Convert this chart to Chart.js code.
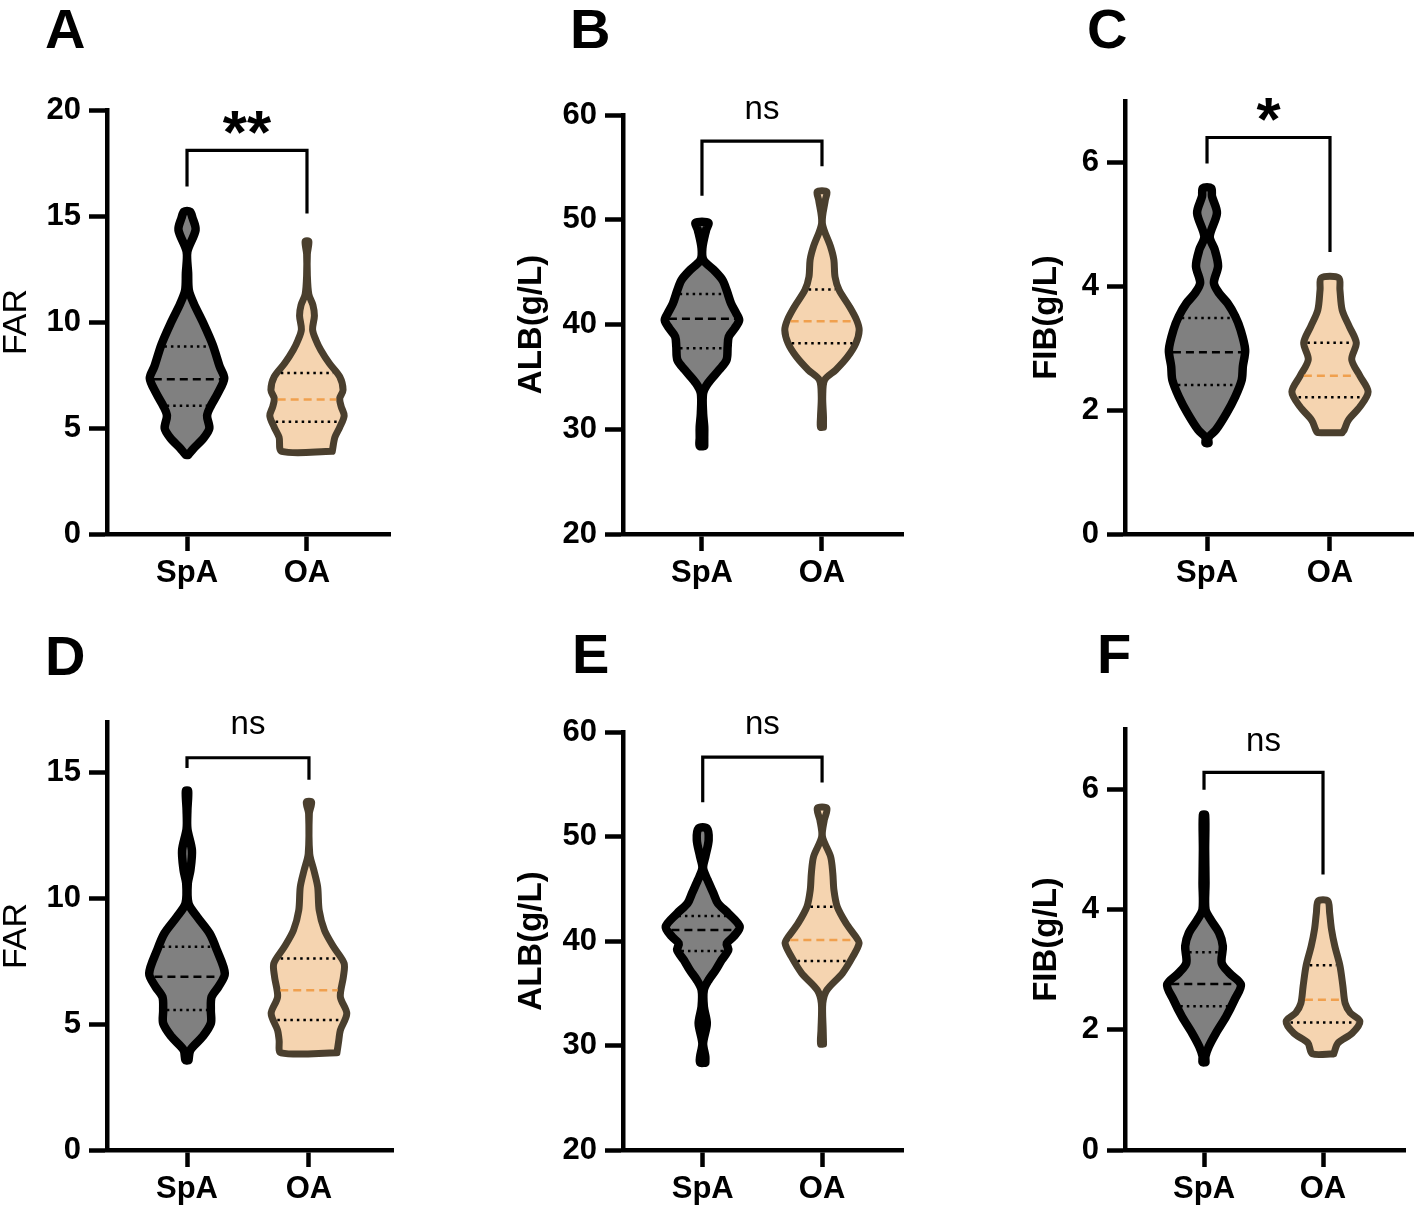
<!DOCTYPE html>
<html>
<head>
<meta charset="utf-8">
<title>FAR / ALB / FIB violin plots</title>
<script src="https://cdn.jsdelivr.net/npm/chart.js@4.4.1/dist/chart.umd.min.js"></script>
<style>
  body { margin: 0; background: #fff; width: 1416px; height: 1211px; position: relative; overflow: hidden; }
</style>
</head>
<body>
<script>
const groups = ['SpA', 'OA'];

// violin outlines: value levels (bottom -> top) and relative density at each level
// A - FAR
const aSpaY = [3.73, 4.04, 4.51, 4.98, 5.58, 6.01, 6.64, 7.34, 7.89, 8.93, 9.94, 10.88, 11.5, 12.3, 13.32, 14.34, 14.9, 15.2];
const aSpaD = [0.03, 0.18, 0.44, 0.6, 0.54, 0.63, 0.83, 1.0, 0.88, 0.69, 0.44, 0.18, 0.05, 0.03, 0.01, 0.23, 0.15, 0.08];
const aOaY = [3.9, 4.56, 5.03, 5.58, 6.01, 6.4, 6.79, 7.42, 8.05, 8.68, 9.15, 9.65, 10.3, 10.8, 11.3, 12.2, 13.2, 13.8];
const aOaD = [0.68, 0.75, 0.88, 1.0, 0.92, 0.88, 0.97, 0.88, 0.6, 0.37, 0.24, 0.15, 0.2, 0.16, 0.05, 0.01, 0.01, 0.05];
const aSpaQ = [6.05, 7.3, 8.85];
const aOaQ = [5.3, 6.35, 7.6];

// B - ALB
const bSpaY = [28.4, 29.2, 30.24, 31.52, 33.43, 34.39, 35.66, 36.61, 37.88, 38.84, 39.64, 40.43, 41.07, 42.02, 43.29, 44.25, 45.2, 46.16, 47.27, 49.02, 49.72];
const bSpaD = [0.06, 0.06, 0.06, 0.03, 0.03, 0.16, 0.46, 0.66, 0.69, 0.72, 0.88, 1.0, 0.92, 0.78, 0.66, 0.55, 0.32, 0.04, 0.01, 0.11, 0.17];
const bOaY = [30.19, 31.2, 33.11, 34.7, 35.66, 36.93, 38.2, 39.47, 40.43, 41.7, 43.29, 44.56, 46.16, 47.43, 49.66, 51.89, 52.68];
const bOaD = [0.04, 0.04, 0.02, 0.07, 0.37, 0.69, 0.91, 1.0, 0.93, 0.74, 0.46, 0.35, 0.32, 0.23, 0.01, 0.09, 0.13];
const bSpaQ = [37.73, 40.55, 42.9];
const bOaQ = [38.2, 40.3, 43.35];

// C - FIB
const cSpaY = [1.47, 1.56, 1.68, 1.95, 2.22, 2.49, 2.71, 2.98, 3.3, 3.52, 3.73, 3.89, 4.06, 4.33, 4.6, 4.81, 5.19, 5.46, 5.59];
const cSpaD = [0.04, 0.04, 0.23, 0.51, 0.74, 0.91, 0.94, 1.0, 0.88, 0.74, 0.54, 0.32, 0.18, 0.29, 0.2, 0.07, 0.26, 0.13, 0.11];
const cOaY = [1.64, 1.68, 1.84, 2.06, 2.3, 2.55, 2.82, 3.09, 3.35, 3.62, 3.95, 4.14];
const cOaD = [0.32, 0.37, 0.48, 0.79, 1.0, 0.79, 0.57, 0.69, 0.51, 0.32, 0.26, 0.23];
const cSpaQ = [2.41, 2.94, 3.49];
const cOaQ = [2.21, 2.56, 3.09];

// D - FAR
const dSpaY = [3.57, 3.97, 4.5, 5.03, 5.56, 6.08, 6.48, 7.01, 7.94, 8.6, 9.26, 9.79, 10.58, 11.11, 11.9, 12.76, 13.49, 14.26];
const dSpaD = [0.04, 0.09, 0.41, 0.63, 0.63, 0.65, 0.83, 1.0, 0.79, 0.6, 0.27, 0.04, 0.02, 0.09, 0.13, 0.01, 0.01, 0.03];
const dOaY = [3.86, 4.37, 4.76, 5.42, 6.08, 6.88, 7.41, 8.07, 8.73, 9.52, 10.45, 11.11, 11.77, 13.36, 13.82];
const dOaD = [0.74, 0.79, 0.83, 1.0, 0.83, 0.91, 0.93, 0.65, 0.41, 0.27, 0.23, 0.13, 0.02, 0.01, 0.07];
const dSpaQ = [5.56, 6.88, 8.07];
const dOaQ = [5.16, 6.35, 7.61];

// E - ALB
const eSpaY = [28.36, 28.93, 30.21, 32.12, 33.71, 35.31, 36.27, 37.22, 38.18, 39.14, 39.78, 40.41, 41.37, 42.65, 43.61, 44.56, 45.84, 46.96, 48.07, 49.67, 50.78];
const eSpaD = [0.07, 0.07, 0.01, 0.11, 0.03, 0.03, 0.16, 0.35, 0.51, 0.69, 0.65, 0.83, 1.0, 0.69, 0.41, 0.29, 0.13, 0.01, 0.07, 0.16, 0.11];
const eOaY = [30.14, 31.48, 34.04, 35.31, 36.91, 38.5, 39.78, 40.41, 41.69, 43.28, 44.88, 46.48, 48.07, 49.98, 51.58, 52.7];
const eOaD = [0.04, 0.03, 0.02, 0.13, 0.55, 0.83, 1.0, 0.91, 0.65, 0.41, 0.32, 0.29, 0.23, 0.01, 0.06, 0.13];
const eSpaQ = [39.04, 41.05, 42.39];
const eOaQ = [38.09, 40.1, 43.28];

// F - FIB
const fSpaY = [1.46, 1.56, 1.72, 1.94, 2.22, 2.5, 2.75, 2.94, 3.11, 3.39, 3.61, 3.83, 4.0, 4.44, 5.0, 5.57];
const fSpaD = [0.04, 0.04, 0.13, 0.32, 0.6, 0.83, 1.0, 0.69, 0.48, 0.51, 0.41, 0.18, 0.04, 0.04, 0.03, 0.03];
const fOaY = [1.6, 1.78, 1.94, 2.14, 2.28, 2.44, 2.72, 3.06, 3.39, 3.67, 3.94, 4.14];
const fOaD = [0.29, 0.41, 0.79, 1.0, 0.74, 0.6, 0.54, 0.46, 0.32, 0.23, 0.18, 0.13];
const fSpaQ = [2.39, 2.76, 3.29];
const fOaQ = [2.12, 2.5, 3.07];

// significance: label and bracket (left leg bottom, top, right leg bottom)
const sigLabels = ['**', 'ns', '*', 'ns', 'ns', 'ns'];
const brackets = [
  [16.39, 18.1, 15.12],
  [52.3, 57.5, 55.1],
  [5.99, 6.41, 4.56],
  [15.17, 15.58, 14.71],
  [53.27, 57.6, 55.17],
  [5.99, 6.28, 4.58]
];

Chart.defaults.font.family = "'Liberation Sans', Arial, Helvetica, sans-serif";
Chart.defaults.color = '#000';

const HALF = 0.31;  // widest half-violin, in category units
const spaStyle = { fill: '#808080', line: '#000000', width: 8.5, median: '#000000' };
const oaStyle = { fill: '#f5d4b0', line: '#4a3f2e', width: 7, median: '#f0a04e' };

function widthAt(ys, ds, v) {
  if (v <= ys[0]) return ds[0];
  for (let i = 1; i < ys.length; i++) {
    if (v <= ys[i]) {
      const t = (v - ys[i - 1]) / (ys[i] - ys[i - 1]);
      return ds[i - 1] + t * (ds[i] - ds[i - 1]);
    }
  }
  return ds[ds.length - 1];
}

function violin(pos, ys, ds, st) {
  const right = ys.map((y, i) => ({ x: pos + ds[i] * HALF, y: y }));
  const left = ys.map((y, i) => ({ x: pos - ds[i] * HALF, y: y })).reverse();
  return {
    data: right.concat(left, [right[0]]),
    showLine: true, fill: 'shape',
    backgroundColor: st.fill, borderColor: st.line, borderWidth: st.width,
    borderJoinStyle: 'round', borderCapStyle: 'round',
    tension: 0.3, pointRadius: 0, order: 3
  };
}

function qline(pos, ys, ds, v, color, dash) {
  const w = Math.max(widthAt(ys, ds, v) * HALF - 0.03, 0.02);
  return {
    data: [{ x: pos - w, y: v }, { x: pos + w, y: v }],
    showLine: true, fill: false, borderColor: color, borderWidth: 2.5,
    borderDash: dash, borderCapStyle: 'butt', tension: 0, pointRadius: 0, order: 1
  };
}

function bracket(b) {
  return {
    data: [{ x: 1, y: b[0] }, { x: 1, y: b[1] }, { x: 2, y: b[1] }, { x: 2, y: b[2] }],
    showLine: true, fill: false, borderColor: '#000', borderWidth: 3.2,
    borderJoinStyle: 'miter', borderCapStyle: 'butt', tension: 0, pointRadius: 0, order: 0
  };
}

function violinSet(pos, ys, ds, q, st) {
  return [
    violin(pos, ys, ds, st),
    qline(pos, ys, ds, q[0], '#000', [2.5, 4]),
    qline(pos, ys, ds, q[1], st.median, [8, 5]),
    qline(pos, ys, ds, q[2], '#000', [2.5, 4])
  ];
}

// panel letters and significance marks
const panelText = {
  id: 'panelText',
  afterDraw(chart, args, o) {
    const ctx = chart.ctx;
    const x = chart.scales.x, y = chart.scales.y;
    ctx.save();
    ctx.fillStyle = '#000';
    ctx.textAlign = 'left';
    ctx.textBaseline = 'alphabetic';
    ctx.font = "bold 56px 'Liberation Sans', Arial, sans-serif";
    ctx.fillText(o.letter, o.letterX, o.letterY);

    const star = o.mark !== 'ns';
    ctx.font = star ? "bold 62px 'Liberation Sans', Arial, sans-serif"
                    : "33px 'Liberation Sans', Arial, sans-serif";
    ctx.textAlign = 'center';
    const m = ctx.measureText(o.mark);
    const yc = y.getPixelForValue(o.markY);
    ctx.fillText(o.mark, x.getPixelForValue(1.5), yc + (m.actualBoundingBoxAscent - m.actualBoundingBoxDescent) / 2);
    ctx.restore();
  }
};

const panels = [
  { letter: 'A', title: 'FAR', bold: false, min: 0, max: 20, step: 5, xr: [0.333, 2.692],
    spa: [aSpaY, aSpaD, aSpaQ], oa: [aOaY, aOaD, aOaQ], markY: 19.39,
    box: [0, 0, 470, 600], area: [107, 110, 390, 534], lt: [45, 48] },
  { letter: 'B', title: 'ALB(g/L)', bold: true, min: 20, max: 60, step: 10, xr: [0.342, 2.675],
    spa: [bSpaY, bSpaD, bSpaQ], oa: [bOaY, bOaD, bOaQ], markY: 60.5,
    box: [515, 0, 420, 600], area: [623, 115, 903, 534], lt: [55, 48] },
  { letter: 'C', title: 'FIB(g/L)', bold: true, min: 0, max: 7, step: 2, xr: [0.333, 2.675],
    spa: [cSpaY, cSpaD, cSpaQ], oa: [cOaY, cOaD, cOaQ], markY: 6.86,
    box: [1030, 0, 386, 600], area: [1125, 101, 1413, 534], lt: [57, 48] },
  { letter: 'D', title: 'FAR', bold: false, min: 0, max: 17, step: 5, xr: [0.344, 2.689],
    spa: [dSpaY, dSpaD, dSpaQ], oa: [dOaY, dOaD, dOaQ], markY: 16.87,
    box: [0, 605, 470, 606], area: [107, 722, 393, 1150], lt: [45, 70] },
  { letter: 'E', title: 'ALB(g/L)', bold: true, min: 20, max: 60, step: 10, xr: [0.332, 2.678],
    spa: [eSpaY, eSpaD, eSpaQ], oa: [eOaY, eOaD, eOaQ], markY: 60.67,
    box: [515, 605, 420, 606], area: [623, 732, 903, 1150], lt: [57, 68] },
  { letter: 'F', title: 'FIB(g/L)', bold: true, min: 0, max: 7, step: 2, xr: [0.336, 2.689],
    spa: [fSpaY, fSpaD, fSpaQ], oa: [fOaY, fOaD, fOaQ], markY: 6.78,
    box: [1030, 605, 386, 606], area: [1125, 729, 1405, 1150], lt: [67, 68] }
];

panels.forEach((p, i) => {
  const cv = document.createElement('canvas');
  cv.width = p.box[2];
  cv.height = p.box[3];
  cv.style.cssText = 'position:absolute;left:' + p.box[0] + 'px;top:' + p.box[1] + 'px;';
  document.body.appendChild(cv);

  const yWidth = p.area[0] - p.box[0];
  const xHeight = p.box[1] + p.box[3] - p.area[3];

  const datasets = []
    .concat(violinSet(1, p.spa[0], p.spa[1], p.spa[2], spaStyle))
    .concat(violinSet(2, p.oa[0], p.oa[1], p.oa[2], oaStyle))
    .concat([bracket(brackets[i])]);

  new Chart(cv, {
    type: 'scatter',
    data: { datasets: datasets },
    options: {
      responsive: false,
      animation: false,
      events: [],
      layout: { padding: { left: 0, top: p.area[1] - p.box[1], right: p.box[0] + p.box[2] - p.area[2], bottom: 0 } },
      plugins: {
        legend: { display: false },
        tooltip: { enabled: false },
        panelText: { letter: p.letter, letterX: p.lt[0], letterY: p.lt[1], mark: sigLabels[i], markY: p.markY }
      },
      scales: {
        x: {
          type: 'linear', min: p.xr[0], max: p.xr[1],
          afterBuildTicks: s => { s.ticks = [{ value: 1 }, { value: 2 }]; },
          afterFit: s => { s.height = xHeight; },
          ticks: {
            autoSkip: false, maxRotation: 0, padding: 4, color: '#000',
            font: { size: 31, weight: 'bold' },
            callback: v => groups[v - 1] || ''
          },
          grid: { drawOnChartArea: false, tickLength: 17, tickWidth: 4.5, tickColor: '#000', color: '#000' },
          border: { color: '#000', width: 4.5 }
        },
        y: {
          type: 'linear', min: p.min, max: p.max,
          afterFit: s => { s.width = yWidth; },
          ticks: {
            stepSize: p.step, includeBounds: false, padding: 8, color: '#000',
            font: { size: 31, weight: 'bold' }
          },
          grid: { drawOnChartArea: false, tickLength: 18, tickWidth: 4.5, tickColor: '#000', color: '#000' },
          border: { color: '#000', width: 4.5 },
          title: {
            display: true, text: p.title, color: '#000', padding: 0,
            font: { size: p.bold ? 33 : 34, weight: p.bold ? 'bold' : 'normal', lineHeight: 1 }
          }
        }
      }
    },
    plugins: [panelText]
  });
});
</script>
</body>
</html>
